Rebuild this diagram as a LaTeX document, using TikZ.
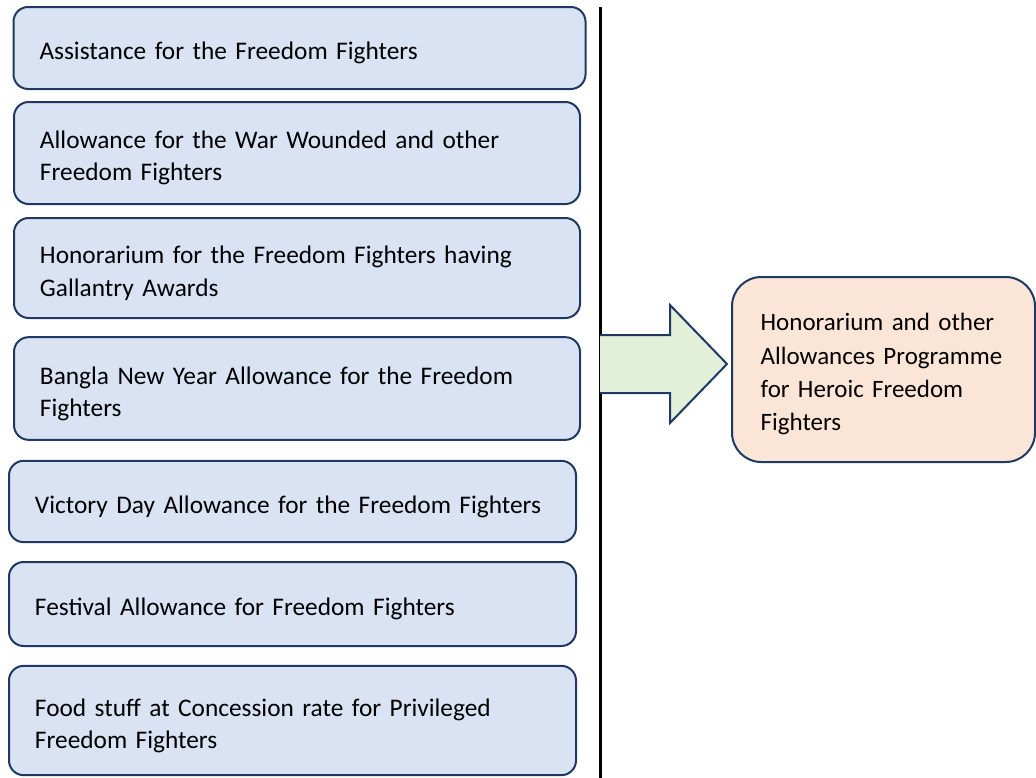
\documentclass[tikz,border=0pt]{standalone}
\usepackage{fontspec}
\setmainfont{Carlito}
\usetikzlibrary{positioning}
\definecolor{boxline}{HTML}{203864}
\definecolor{boxfill}{HTML}{DAE3F3}
\definecolor{goalfill}{HTML}{FBE5D6}
\definecolor{arrowfill}{HTML}{E2F0D9}
\tikzset{
  item/.style={draw=boxline, fill=boxfill, line width=1.5pt, rounded corners=11pt,
    inner xsep=19.5pt, inner ysep=0pt, align=left, anchor=center,
    font=\fontsize{19}{24.2}\selectfont,
    execute at begin node={\rule{0pt}{21pt}}},
  goal/.style={draw=boxline, fill=goalfill, line width=1.5pt, rounded corners=22pt,
    inner xsep=21.5pt, inner ysep=0pt, align=left, anchor=center,
    font=\fontsize{18.75}{25}\selectfont,
    execute at begin node={\hyphenpenalty=10000\rule{0pt}{20pt}}},
  blockarrow/.style={draw=boxline, fill=arrowfill, line width=1.5pt, line join=miter},
  divider/.style={draw=black, line width=2.25pt}
}
\begin{document}
\begin{tikzpicture}[x=0.75pt, y=-0.75pt]
\useasboundingbox (0,0) rectangle (1036,778);

% programme components
\node[item, text width=390pt, minimum height=61.5pt] (b1) at (299.5,48)
  {Assistance for the Freedom Fighters};
\node[item, text width=385.5pt, minimum height=76.5pt] (b2) at (297,153)
  {Allowance for the War Wounded and other\\Freedom Fighters};
\node[item, text width=385.5pt, minimum height=75pt] (b3) at (297,268)
  {Honorarium for the Freedom Fighters having\\Gallantry Awards};
\node[item, text width=385.5pt, minimum height=77pt] (b4) at (297,388.5)
  {Bangla New Year Allowance for the Freedom\\Fighters};
\node[item, text width=386.25pt, minimum height=61pt] (b5) at (292.5,501.5)
  {Victory Day Allowance for the Freedom Fighters};
\node[item, text width=386.25pt, minimum height=63pt] (b6) at (292.5,604)
  {Festival Allowance for Freedom Fighters};
\node[item, text width=386.25pt, minimum height=82pt] (b7) at (292.5,720.5)
  {Food stuff at Concession rate for Privileged\\Freedom Fighters};

% dividing rule
\coordinate (ltop) at (600,7);
\coordinate (lbot) at (600,778);
\draw[divider] (ltop) -- (lbot);

% resulting programme
\node[goal, text width=184.25pt, minimum height=138.75pt] (goal) at (883.5,369.5)
  {Honorarium and other\\Allowances Programme\\for Heroic Freedom\\Fighters};

% block arrow from the rule to the programme
\coordinate (a1) at (600,335);
\coordinate (a2) at (670,335);
\coordinate (a3) at (670,305);
\coordinate (a4) at (727,364);
\coordinate (a5) at (670,423);
\coordinate (a6) at (670,393);
\coordinate (a7) at (600,393);
\draw[blockarrow] (a1) -- (a2) -- (a3) -- (a4) -- (a5) -- (a6) -- (a7);
\end{tikzpicture}
\end{document}
